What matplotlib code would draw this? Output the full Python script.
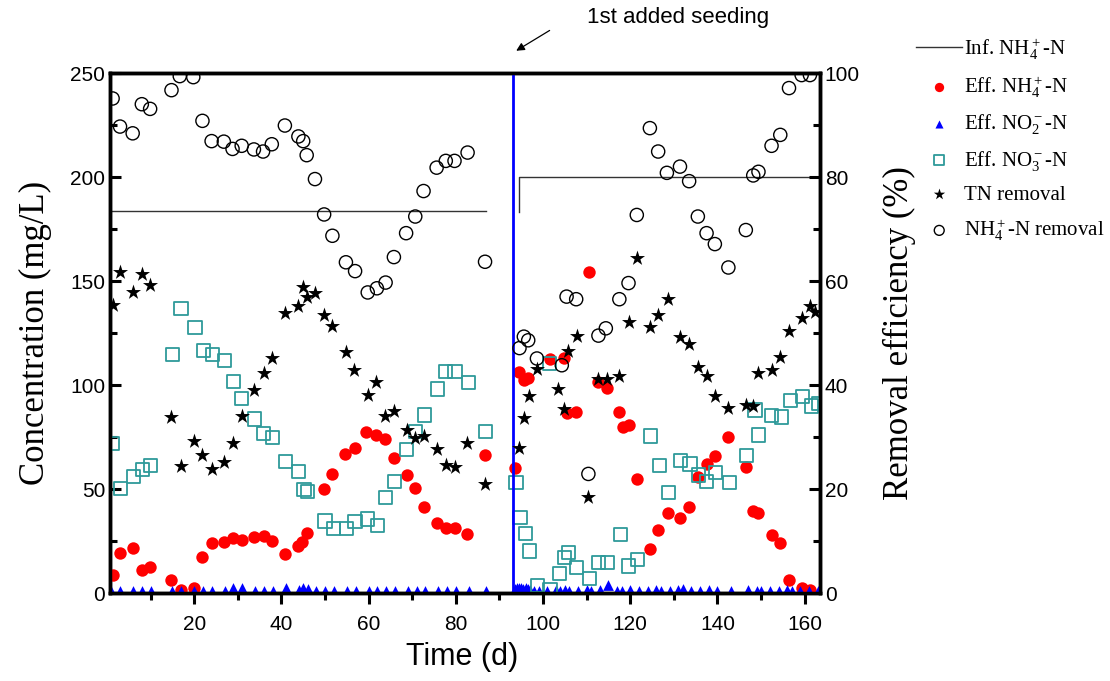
import matplotlib
matplotlib.use('Agg')
import numpy as np
import matplotlib.pyplot as plt
from matplotlib.ticker import MultipleLocator

plt.rcParams['font.family'] = ['Liberation Sans', 'DejaVu Sans']
plt.rcParams['mathtext.fontset'] = 'custom'
plt.rcParams['mathtext.rm'] = 'Liberation Serif'
plt.rcParams['mathtext.it'] = 'Liberation Serif:italic'
plt.rcParams['mathtext.bf'] = 'Liberation Serif:bold'

# influent NH4+-N (mg/L), NaN breaks the line
inf_day = [0.7, 87, np.nan, 94.5, 94.5, 163.5]
inf_nh4 = [183.5, 183.5, np.nan, 183, 200, 200]

# effluent NH4+-N (mg/L)
nh4_day = [1.3, 3.0, 5.9, 8.0, 9.9, 14.8, 17.0, 20.0, 21.9, 24.0, 26.8, 28.8, 30.9, 33.7,
           35.9, 37.9, 40.8, 43.7, 44.8, 45.8, 49.8, 51.7, 54.7, 56.9, 59.5, 61.8, 63.8,
           65.8, 68.7, 70.6, 72.7, 75.6, 77.7, 79.7, 82.6, 86.7,
           93.6, 94.6, 95.6, 96.6, 101.6, 104.7, 105.4, 107.6, 110.5, 112.7, 114.6, 117.5,
           118.4, 119.6, 121.5, 124.5, 126.4, 128.6, 131.4, 133.5, 135.5, 137.5, 139.4,
           142.5, 146.5, 148.2, 149.4, 152.4, 154.4, 156.4, 159.3, 161.2]
nh4_eff = [8.7, 19.1, 21.5, 11.1, 12.6, 6.3, 1.4, 2.3, 17.2, 24.2, 24.7, 26.3, 25.5, 26.8,
           27.4, 25.1, 18.6, 22.6, 24.7, 29.0, 50.0, 57.2, 66.8, 69.9, 77.3, 76.0, 73.9,
           65.0, 56.7, 50.6, 41.5, 33.5, 31.1, 31.1, 28.2, 66.3,
           60.0, 106.4, 102.4, 103.2, 112.4, 112.8, 86.4, 87.2, 154.5, 101.6, 98.4, 87.2,
           79.7, 80.8, 54.7, 21.0, 30.3, 38.6, 35.9, 41.5, 55.9, 62.0, 65.9,
           75.1, 60.7, 39.6, 38.3, 27.9, 24.2, 6.2, 2.4, 1.4]

# effluent NO2--N (mg/L)
no2_day = [1, 3, 6, 8, 10, 15, 17, 20, 22, 24, 27, 29, 31, 34, 36, 38, 41, 44, 45, 46,
           48, 50, 52, 55, 57, 60, 62, 64, 66, 69, 71, 73, 76, 78, 80, 83, 87,
           93.5, 94, 94.5, 95, 95.5, 96, 96.5, 97, 98, 99, 101, 103, 104, 105, 106, 108,
           110, 111, 113, 115, 117, 118, 120, 122, 124, 126, 127, 129, 131, 132, 134, 136,
           138, 140, 143, 147, 149, 150, 152, 154, 156, 157, 159, 161, 163]
no2_eff = [0.8, 1.0, 0.9, 1.0, 1.1, 1.0, 0.9, 1.0, 1.0, 0.9, 1.2, 2.2, 2.4, 1.0, 1.1,
           1.2, 2.6, 1.4, 2.2, 2.0, 1.0, 1.0, 0.9, 1.0, 1.0, 1.1, 0.9, 1.0, 1.0, 1.0,
           0.9, 1.0, 1.0, 1.1, 1.0, 1.0, 1.0,
           2.0, 2.5, 2.2, 2.4, 2.0, 2.3, 2.1, 1.5, 1.2, 1.0, 1.0, 1.3, 1.2, 1.5, 1.0, 1.2,
           1.5, 1.1, 1.4, 4.0, 1.2, 1.0, 1.3, 1.0, 1.2, 1.5, 1.0, 1.2, 1.4, 2.0, 1.2, 1.0,
           1.5, 1.0, 1.0, 1.3, 1.0, 1.2, 1.0, 1.1, 1.3, 1.0, 1.2, 1.0, 1.0]

# effluent NO3--N (mg/L)
no3_day = [1.3, 3.1, 6.0, 8.1, 9.9, 15.0, 17.0, 20.2, 22.1, 24.2, 26.9, 29.0, 30.9, 33.8,
           35.9, 37.9, 41.0, 44.0, 45.2, 45.9, 50.0, 51.9, 55.0, 56.9, 59.8, 62.0, 63.8,
           65.9, 68.7, 70.8, 72.8, 75.8, 77.7, 79.8, 82.9, 86.8,
           93.8, 94.7, 95.9, 96.9, 98.7, 101.4, 101.6, 103.7, 104.9, 105.8, 107.7, 110.6,
           112.7, 114.7, 117.8, 119.6, 121.7, 124.7, 126.7, 128.7, 131.6, 133.7, 135.6,
           137.5, 139.6, 142.7, 146.7, 148.6, 149.5, 152.4, 154.6, 156.7, 159.5, 161.6, 163.1]
no3_eff = [72.0, 50.3, 55.9, 59.5, 61.2, 114.8, 136.9, 127.7, 116.5, 114.8, 111.7, 101.6,
           93.6, 83.7, 76.8, 74.9, 63.1, 58.3, 49.9, 48.7, 34.6, 31.1, 31.1, 34.3, 35.6,
           32.4, 46.0, 53.5, 68.8, 77.5, 85.6, 98.1, 106.4, 106.4, 101.3, 77.5,
           53.0, 36.4, 28.7, 20.2, 3.5, 110.4, 1.5, 9.5, 17.0, 19.4, 12.4, 7.1,
           14.8, 14.8, 28.2, 13.0, 16.2, 75.5, 61.2, 48.2, 63.6, 62.0, 56.7,
           53.8, 58.0, 53.0, 66.3, 88.0, 76.0, 85.2, 84.6, 92.5, 94.4, 89.9, 91.2]

# TN removal (%)
tn_day = [1.3, 3.0, 5.9, 8.0, 9.9, 14.8, 17.0, 20.0, 21.9, 24.0, 26.8, 28.8, 30.9, 33.7,
          35.9, 37.9, 40.8, 43.7, 45.0, 45.8, 47.7, 49.8, 51.7, 54.8, 56.7, 59.8, 61.8,
          63.8, 65.8, 68.7, 70.6, 72.7, 75.6, 77.7, 79.7, 82.6, 86.7,
          94.6, 95.6, 96.7, 98.7, 103.5, 104.7, 105.7, 107.7, 110.4, 112.7, 114.6, 117.5,
          119.6, 121.5, 124.5, 126.4, 128.6, 131.4, 133.5, 135.6, 137.5, 139.4, 142.5,
          146.5, 148.2, 149.4, 152.4, 154.4, 156.4, 159.3, 161.2, 162.4]
tn_rem = [55.4, 61.8, 57.8, 61.3, 59.2, 33.9, 24.5, 29.3, 26.5, 23.8, 25.1, 28.8, 34.1, 39.0,
          42.4, 45.1, 53.8, 55.1, 58.9, 56.9, 57.6, 53.5, 51.4, 46.3, 42.9, 38.1, 40.5,
          34.1, 35.0, 31.3, 29.8, 30.2, 27.7, 24.6, 24.3, 28.8, 21.0,
          27.8, 33.7, 37.9, 43.0, 39.2, 35.3, 46.6, 49.4, 18.4, 41.1, 41.1, 41.7,
          52.2, 64.4, 51.1, 53.5, 56.5, 49.2, 47.9, 43.5, 41.7, 37.9, 35.6,
          36.2, 36.0, 42.4, 42.8, 45.3, 50.4, 52.8, 55.1, 54.0]

# NH4+-N removal (%)
rem_day = [1.3, 3.0, 5.9, 8.0, 9.9, 14.8, 16.7, 19.8, 21.9, 24.0, 26.8, 28.8, 30.9, 33.7,
           35.8, 37.8, 40.8, 43.9, 45.0, 45.8, 47.7, 49.8, 51.7, 54.8, 56.9, 59.8, 61.9,
           63.9, 65.8, 68.6, 70.7, 72.6, 75.6, 77.7, 79.7, 82.7, 86.7,
           94.6, 95.6, 96.6, 98.6, 104.3, 105.4, 107.6, 110.4, 112.7, 114.4, 117.5, 119.6,
           121.5, 124.5, 126.4, 128.4, 131.4, 133.5, 135.5, 137.5, 139.4, 142.5, 146.5,
           148.2, 149.4, 152.4, 154.4, 156.4, 159.3, 161.2]
rem_nh4 = [95.1, 89.7, 88.4, 94.0, 93.1, 96.7, 99.4, 99.2, 90.8, 86.9, 86.8, 85.4, 86.0, 85.3,
           84.9, 86.3, 89.9, 87.8, 86.9, 84.2, 79.6, 72.8, 68.7, 63.6, 61.9, 57.8, 58.6,
           59.7, 64.6, 69.2, 72.4, 77.3, 81.8, 83.1, 83.1, 84.7, 63.7,
           47.1, 49.3, 48.6, 45.1, 43.8, 57.0, 56.5, 22.9, 49.5, 50.9, 56.5, 59.6,
           72.7, 89.4, 84.9, 80.8, 82.0, 79.2, 72.4, 69.2, 67.1, 62.6, 69.8,
           80.3, 81.0, 86.0, 88.1, 97.1, 99.6, 99.6]

seed_day = 93

teal = '#2e9a9a'

fig = plt.figure(figsize=(11.1, 6.81), dpi=100)
ax = fig.add_axes([0.0991, 0.1292, 0.6396, 0.7636])
ax2 = ax.twinx()

ax.plot(inf_day, inf_nh4, color='#333333', lw=1.0, label='Inf. NH$_4^+$-N')
ax.scatter(nh4_day, nh4_eff, s=80, color='#ff0000', marker='o', lw=0,
           label='Eff. NH$_4^+$-N', zorder=3)
ax.scatter(no2_day, no2_eff, s=60, color='#0000ff', marker='^', lw=0,
           label='Eff. NO$_2^-$-N', zorder=3)
ax.scatter(no3_day, no3_eff, s=90, facecolor='none', edgecolor=teal, marker='s', lw=1.3,
           label='Eff. NO$_3^-$-N', zorder=3)
ax.axvline(seed_day, color='#0000ff', lw=2.0, zorder=4)

ax2.scatter(tn_day, tn_rem, s=130, color='black', marker='*', lw=0, label='TN removal')
ax2.scatter(rem_day, rem_nh4, s=90, facecolor='none', edgecolor='black', marker='o', lw=1.0,
            label='NH$_4^+$-N removal')

ax.set_xlim(0.7, 163.5)
ax.set_ylim(0, 250)
ax2.set_ylim(0, 100)

ax.xaxis.set_major_locator(MultipleLocator(20))
ax.xaxis.set_minor_locator(MultipleLocator(10))
ax.yaxis.set_major_locator(MultipleLocator(50))
ax.yaxis.set_minor_locator(MultipleLocator(25))
ax2.yaxis.set_major_locator(MultipleLocator(20))
ax2.yaxis.set_minor_locator(MultipleLocator(10))

ax.tick_params(axis='x', which='major', direction='out', length=8, width=2.2, labelsize=15, pad=8)
ax.tick_params(axis='x', which='minor', direction='out', length=5, width=2.2)
ax.tick_params(axis='y', which='major', direction='in', length=8, width=2.2, labelsize=15)
ax.tick_params(axis='y', which='minor', direction='in', length=5, width=2.2)
ax2.tick_params(axis='y', which='major', direction='in', length=8, width=2.2, labelsize=15)
ax2.tick_params(axis='y', which='minor', direction='in', length=5, width=2.2)
ax.tick_params(top=False)

for a in (ax, ax2):
    for sp in a.spines.values():
        sp.set_linewidth(2.5)

ax.set_xlabel('Time (d)', fontsize=22)
ax.xaxis.set_label_coords(0.496, -0.095)
ax.set_ylabel('Concentration (mg/L)', fontsize=25, family='Liberation Serif')
ax.yaxis.set_label_coords(-0.082, 0.5)
ax2.set_ylabel('Removal efficiency (%)', fontsize=25, family='Liberation Serif')
ax2.yaxis.set_label_coords(1.088, 0.5)

ax.annotate('1st added seeding', xy=(678, 663), xycoords='figure pixels',
            fontsize=16, ha='center', va='center', annotation_clip=False)
ax.annotate('', xy=(seed_day + 0.3, 260), xycoords='data',
            xytext=(552, 652), textcoords='figure pixels',
            arrowprops=dict(arrowstyle='-|>', color='black', lw=0.9, mutation_scale=12),
            annotation_clip=False)

h1, l1 = ax.get_legend_handles_labels()
h2, l2 = ax2.get_legend_handles_labels()
leg = fig.legend(h1 + h2, l1 + l2, loc='upper left', bbox_to_anchor=(0.818, 0.959),
                 frameon=False, prop={'family': 'Liberation Serif', 'size': 15},
                 handlelength=2.2, handletextpad=0.1, labelspacing=0.6,
                 markerscale=0.75, borderaxespad=0)

fig.savefig('out.png', dpi=100)
